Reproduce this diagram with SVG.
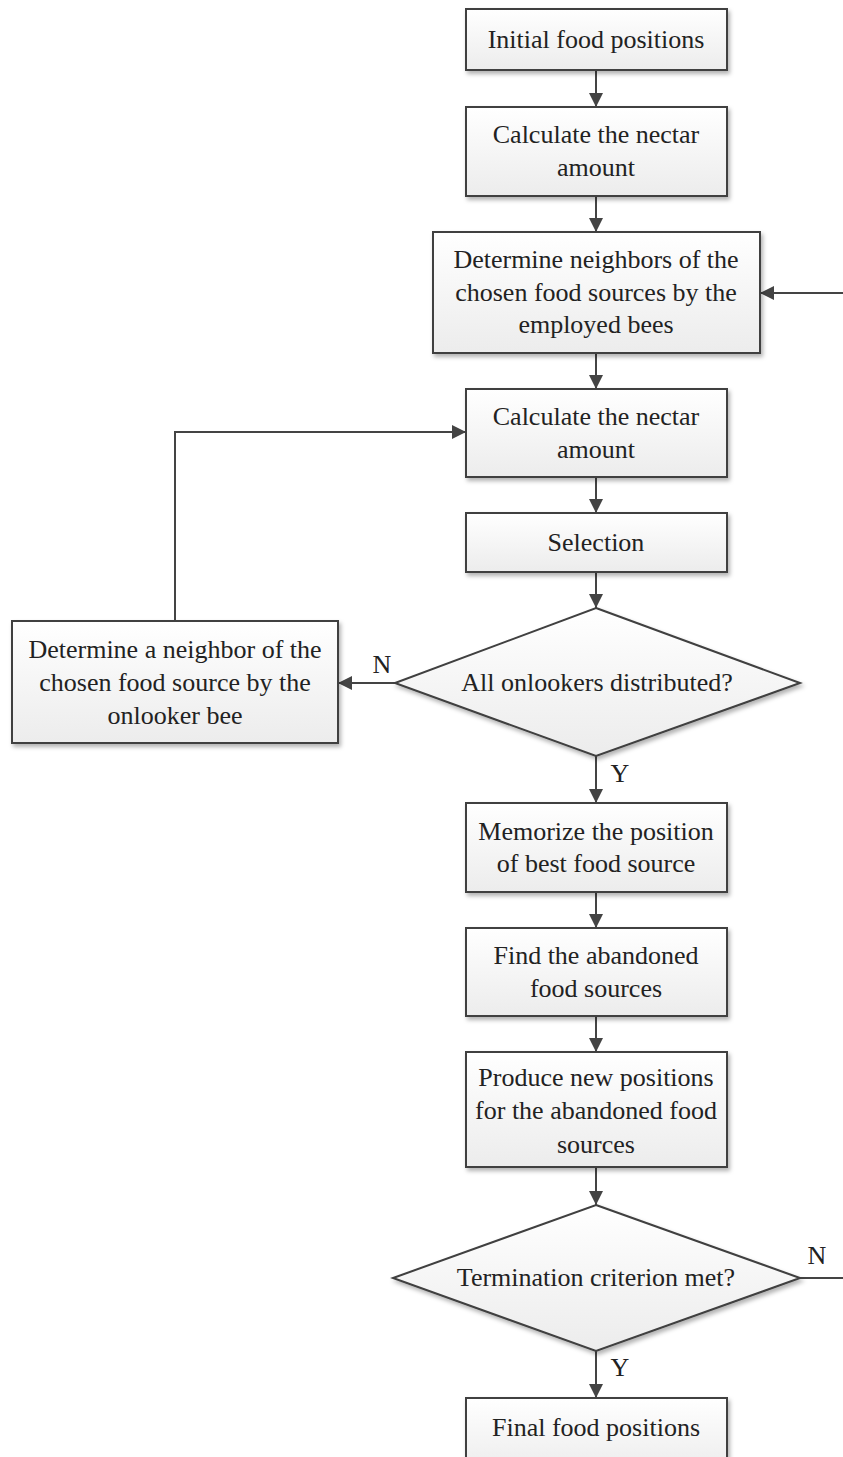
<svg xmlns="http://www.w3.org/2000/svg" width="843" height="1457" viewBox="0 0 843 1457">
<style>
.box{fill:url(#g);stroke:#3f3f3f;stroke-width:2;filter:url(#sh)}
.t{font-family:"Liberation Serif","Times New Roman",serif;font-size:26px;fill:#222;text-anchor:middle}
.c{fill:none;stroke:#444;stroke-width:2;marker-end:url(#ah)}
.cl{fill:none;stroke:#444;stroke-width:2}
</style>
<defs>
<linearGradient id="g" x1="0" y1="0" x2="0" y2="1">
<stop offset="0" stop-color="#ffffff"/>
<stop offset="1" stop-color="#ececec"/>
</linearGradient>
<filter id="sh" x="-10%" y="-10%" width="130%" height="140%">
<feDropShadow dx="2" dy="3" stdDeviation="2" flood-color="#000" flood-opacity="0.3"/>
</filter>
<marker id="ah" viewBox="0 0 10 10" refX="10" refY="5" markerUnits="userSpaceOnUse" markerWidth="15" markerHeight="14" orient="auto">
<path d="M0,0 L10,5 L0,10 z" fill="#444"/>
</marker>
</defs>
<rect width="843" height="1457" fill="#fff"/>

<g id="connectors">
<line class="c" x1="596" y1="70" x2="596" y2="107"/>
<line class="c" x1="596" y1="196" x2="596" y2="232"/>
<line class="c" x1="596" y1="353" x2="596" y2="389"/>
<line class="c" x1="596" y1="477" x2="596" y2="513"/>
<line class="c" x1="596" y1="572" x2="596" y2="608"/>
<line class="c" x1="395" y1="683" x2="338" y2="683"/>
<polyline class="c" points="175,621 175,432 466,432"/>
<line class="c" x1="596" y1="756" x2="596" y2="803"/>
<line class="c" x1="596" y1="892" x2="596" y2="928"/>
<line class="c" x1="596" y1="1016" x2="596" y2="1052"/>
<line class="c" x1="596" y1="1167" x2="596" y2="1205"/>
<line class="c" x1="596" y1="1351" x2="596" y2="1398"/>
<line class="cl" x1="800" y1="1278" x2="843" y2="1278"/>
<line class="c" x1="843" y1="293" x2="760" y2="293"/>
<text class="t" x="382" y="673">N</text>
<text class="t" x="620" y="782">Y</text>
<text class="t" x="817" y="1264">N</text>
<text class="t" x="620" y="1376">Y</text>
</g>

<g id="n1"><rect class="box" x="466" y="9" width="261" height="61"/>
<text class="t" x="596" y="48">Initial food positions</text></g>

<g id="n2"><rect class="box" x="466" y="107" width="261" height="89"/>
<text class="t" x="596" y="143">Calculate the nectar</text>
<text class="t" x="596" y="176">amount</text></g>

<g id="n3"><rect class="box" x="433" y="232" width="327" height="121"/>
<text class="t" x="596" y="268">Determine neighbors of the</text>
<text class="t" x="596" y="301">chosen food sources by the</text>
<text class="t" x="596" y="333">employed bees</text></g>

<g id="n4"><rect class="box" x="466" y="389" width="261" height="88"/>
<text class="t" x="596" y="425">Calculate the nectar</text>
<text class="t" x="596" y="458">amount</text></g>

<g id="n5"><rect class="box" x="466" y="513" width="261" height="59"/>
<text class="t" x="596" y="551">Selection</text></g>

<g id="d1"><polygon class="box" points="596,608 800,683 596,756 395,683"/>
<text class="t" x="597" y="691">All onlookers distributed?</text></g>

<g id="n6"><rect class="box" x="12" y="621" width="326" height="122"/>
<text class="t" x="175" y="658">Determine a neighbor of the</text>
<text class="t" x="175" y="691">chosen food source by the</text>
<text class="t" x="175" y="724">onlooker bee</text></g>

<g id="n7"><rect class="box" x="466" y="803" width="261" height="89"/>
<text class="t" x="596" y="840">Memorize the position</text>
<text class="t" x="596" y="872">of best food source</text></g>

<g id="n8"><rect class="box" x="466" y="928" width="261" height="88"/>
<text class="t" x="596" y="964">Find the abandoned</text>
<text class="t" x="596" y="997">food sources</text></g>

<g id="n9"><rect class="box" x="466" y="1052" width="261" height="115"/>
<text class="t" x="596" y="1086">Produce new positions</text>
<text class="t" x="596" y="1119">for the abandoned food</text>
<text class="t" x="596" y="1153">sources</text></g>

<g id="d2"><polygon class="box" points="596,1205 800,1278 596,1351 393,1278"/>
<text class="t" x="596" y="1286">Termination criterion met?</text></g>

<g id="n10"><rect class="box" x="466" y="1398" width="261" height="75"/>
<text class="t" x="596" y="1436">Final food positions</text></g>
</svg>
